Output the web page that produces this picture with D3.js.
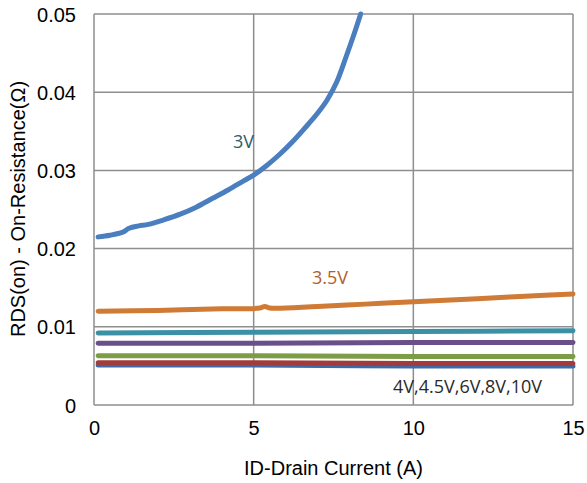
<!DOCTYPE html>
<html>
<head>
<meta charset="utf-8">
<script src="https://cdn.jsdelivr.net/npm/d3@7"></script>
<style>
  html, body { margin: 0; padding: 0; background: #fff; }
  svg { display: block; }
</style>
</head>
<body>
<svg id="chart" width="587" height="483"></svg>
<script>
// Drain current (A) and on-resistance (ohm) per gate voltage
const vgs3Current = [0.13, 0.5, 0.9, 1.1, 1.4, 1.7, 2.2, 2.7, 3.2, 3.7, 4.2, 4.7, 5.0, 5.4, 5.8, 6.2, 6.6, 7.0, 7.3, 7.6, 7.9, 8.15, 8.35];
const vgs3Rds     = [0.0215, 0.0217, 0.0221, 0.0226, 0.0229, 0.0231, 0.0237, 0.0244, 0.0253, 0.0264, 0.0275, 0.0287, 0.0294, 0.0306, 0.0320, 0.0336, 0.0354, 0.0373, 0.0390, 0.0413, 0.0446, 0.0475, 0.0500];

const vgs35Current = [0.13, 2, 4, 5.2, 5.35, 5.5, 7, 8.5, 10, 12, 13.5, 15];
const vgs35Rds     = [0.0120, 0.0121, 0.0123, 0.0124, 0.0126, 0.0124, 0.0126, 0.0129, 0.0132, 0.0136, 0.0139, 0.0142];

const flatCurrent = [0.13, 5, 10, 15];
const vgs10Rds  = [0.0051, 0.0051, 0.0050, 0.0050];
const vgs8Rds   = [0.0054, 0.0054, 0.0053, 0.0053];
const vgs6Rds   = [0.0063, 0.0063, 0.0062, 0.0062];
const vgs45Rds  = [0.0079, 0.0079, 0.0080, 0.0080];
const vgs4Rds   = [0.0092, 0.0093, 0.0094, 0.0095];

const xTicks = [0, 5, 10, 15];
const yTicks = [0, 0.01, 0.02, 0.03, 0.04, 0.05];

const seriesLabels = ["3V", "3.5V", "4V,4.5V,6V,8V,10V"];

const svg = d3.select("#chart");
const plot = { left: 94, top: 14, right: 573, bottom: 405 };

const x = d3.scaleLinear().domain([0, 15]).range([plot.left, plot.right]);
const y = d3.scaleLinear().domain([0, 0.05]).range([plot.bottom, plot.top]);

const gridColor = "#8e8e8e";
const fontAxis = "'Liberation Sans', Arial, sans-serif";
const fontLabel = "'Open Sans', sans-serif";

// Grid lines
const grid = svg.append("g");
grid.selectAll("line.gx").data(xTicks).join("line")
  .attr("x1", d => x(d)).attr("x2", d => x(d))
  .attr("y1", plot.top).attr("y2", plot.bottom)
  .attr("stroke", gridColor).attr("stroke-width", 1.5);
grid.selectAll("line.gy").data(yTicks).join("line")
  .attr("x1", plot.left).attr("x2", plot.right)
  .attr("y1", d => y(d)).attr("y2", d => y(d))
  .attr("stroke", gridColor).attr("stroke-width", 1.5);

// Axes (tick labels only)
const xAxis = svg.append("g")
  .attr("transform", `translate(0,${plot.bottom})`)
  .call(d3.axisBottom(x).tickValues(xTicks).tickSize(0).tickPadding(16).tickFormat(d3.format("d")));
const yAxis = svg.append("g")
  .attr("transform", `translate(${plot.left},0)`)
  .call(d3.axisLeft(y).tickValues(yTicks).tickSize(0).tickPadding(18)
    .tickFormat(d => d === 0 ? "0" : d3.format(".2f")(d)));
[xAxis, yAxis].forEach(a => {
  a.select(".domain").remove();
  a.selectAll("text").attr("font-family", fontAxis).attr("font-size", 20).attr("fill", "#000");
});
yAxis.selectAll("text").attr("dy", "0.35em");

// Clip for the curves
svg.append("clipPath").attr("id", "plotClip")
  .append("rect").attr("x", plot.left).attr("y", plot.top - 3)
  .attr("width", plot.right - plot.left + 4).attr("height", plot.bottom - plot.top + 3);

const line = d3.line().x(d => x(d[0])).y(d => y(d[1])).curve(d3.curveCatmullRom.alpha(0.5));

const series = [
  { cur: flatCurrent, rds: vgs10Rds, color: "#3d6aa8" },
  { cur: flatCurrent, rds: vgs8Rds,  color: "#a23b3b" },
  { cur: flatCurrent, rds: vgs6Rds,  color: "#7d9c46" },
  { cur: flatCurrent, rds: vgs45Rds, color: "#6a4f8a" },
  { cur: flatCurrent, rds: vgs4Rds,  color: "#3b90a6" },
  { cur: vgs35Current, rds: vgs35Rds, color: "#cf7a35" },
  { cur: vgs3Current, rds: vgs3Rds, color: "#4a7ebf" }
];

svg.append("g").attr("clip-path", "url(#plotClip)")
  .selectAll("path").data(series).join("path")
  .attr("d", s => line(s.cur.map((c, i) => [c, s.rds[i]])))
  .attr("fill", "none")
  .attr("stroke", s => s.color)
  .attr("stroke-width", 5)
  .attr("stroke-linecap", "round")
  .attr("stroke-linejoin", "round");

// Series labels
const labels = [
  { text: seriesLabels[0], x: 233, y: 148, color: "#2b5f6c" },
  { text: seriesLabels[1], x: 312, y: 284, color: "#b0612a" },
  { text: seriesLabels[2], x: 393, y: 393, color: "#2a2a2a" }
];
svg.append("g").selectAll("text").data(labels).join("text")
  .attr("x", d => d.x).attr("y", d => d.y)
  .attr("font-family", fontLabel).attr("font-size", 18)
  .attr("fill", d => d.color)
  .text(d => d.text);

// Axis titles
svg.append("text")
  .attr("x", (plot.left + plot.right) / 2).attr("y", 475)
  .attr("text-anchor", "middle")
  .attr("font-family", fontAxis).attr("font-size", 20).attr("fill", "#000")
  .text("ID-Drain Current (A)");
svg.append("text")
  .attr("transform", "translate(25,209) rotate(-90)")
  .attr("text-anchor", "middle")
  .attr("font-family", fontAxis).attr("font-size", 20).attr("fill", "#000")
  .text("RDS(on) - On-Resistance(Ω)");
</script>
</body>
</html>
